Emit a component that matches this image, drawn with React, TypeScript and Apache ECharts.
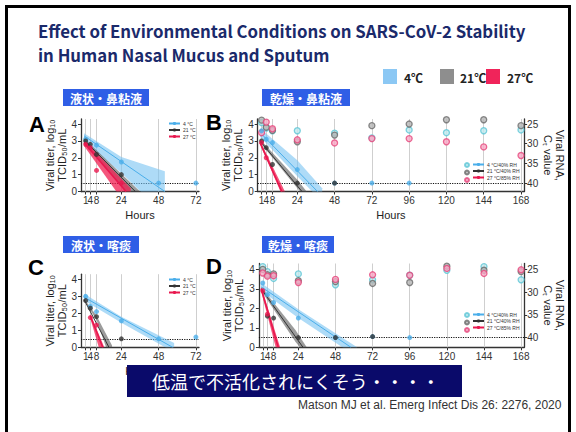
import React, { useEffect, useRef } from 'react';
import * as echarts from 'echarts';

// ---- ticks ----
const hoursShort = [1, 4, 8, 24, 48, 72];
const hoursLong = [1, 4, 8, 24, 48, 72, 96, 120, 144, 168];
const crowdedTick = 4; // label drawn on an overlay axis so it is not hidden by overlap logic
const titerTicks = [0, 1, 2, 3, 4];
const ctTicks = [25, 30, 35, 40];
const detectionLimit = 0.5;

// ---- Panel A: liquid nasal mucus ----
const aLine4 = [[0, 3.3], [52, 0]];
const aBand4X = [0, 24, 52];
const aBand4Lo = [3.0, 1.1, -1.4];
const aBand4Hi = [3.45, 2.05, 1.2];
const aLine21 = [[0, 3.05], [33, 0]];
const aBand21X = [0, 36];
const aBand21Lo = [2.95, -1.0];
const aBand21Hi = [3.15, 0.0];
const aLine27 = [[0, 2.9], [27, 0]];
const aBand27X = [0, 30];
const aBand27Lo = [2.7, -1.2];
const aBand27Hi = [3.05, 0.2];
const aPts4 = [[1, 3.1], [8, 2.75], [24, 1.75], [48, 0.5], [72, 0.5]];
const aPts21 = [[1, 3.0], [4, 2.8], [8, 2.2], [24, 1.0]];
const aPts27 = [[1, 2.8], [4, 2.6], [8, 1.25], [24, 0.5]];

// ---- Panel B: dried nasal mucus ----
const bLine4 = [[0, 3.5], [37, 0]];
const bBand4X = [0, 24, 40];
const bBand4Lo = [3.25, 0.9, -0.6];
const bBand4Hi = [3.75, 1.85, 0.2];
const bLine21 = [[0, 3.0], [27, 0]];
const bBand21X = [0, 24, 30];
const bBand21Lo = [2.9, 0.2, -0.4];
const bBand21Hi = [3.1, 0.7, 0.0];
const bLine27 = [[0, 2.9], [14, 0]];
const bBand27X = [0, 16];
const bBand27Lo = [2.8, -0.6];
const bBand27Hi = [3.0, 0.0];
const bPts4 = [[1, 3.6], [4, 3.1], [8, 2.9], [24, 1.3], [48, 0.5], [72, 0.5], [96, 0.5]];
const bPts21 = [[1, 3.0], [4, 2.6], [8, 1.6], [24, 0.5], [48, 0.5]];
const bPts27 = [[1, 2.9], [4, 2.0]];
const bCt4 = [[1, 24.6], [4, 26.0], [8, 26.7], [24, 26.7], [48, 27.3], [72, 28.5], [96, 26.5], [120, 27.2], [144, 26.7], [168, 26.5]];
const bCt21 = [[1, 24.0], [4, 25.8], [8, 26.6], [24, 29.5], [48, 27.8], [72, 25.4], [96, 25.0], [120, 23.9], [144, 23.9], [168, 25.4]];
const bCt27 = [[1, 27.2], [4, 24.5], [8, 26.2], [24, 29.0], [48, 29.8], [72, 28.7], [96, 28.7], [120, 29.5], [144, 30.8], [168, 33.0]];

// ---- Panel C: liquid sputum ----
const cLine4 = [[0, 2.95], [57, 0]];
const cBand4X = [0, 24, 58];
const cBand4Lo = [2.75, 1.45, -0.3];
const cBand4Hi = [3.15, 1.8, 0.25];
const cLine21 = [[0, 2.8], [16, 0]];
const cBand21X = [0, 8, 18];
const cBand21Lo = [2.75, 1.6, -1.0];
const cBand21Hi = [2.85, 1.85, 0.1];
const cLine27 = [[4, 1.85], [12, 0]];
const cBand27X = [4, 13];
const cBand27Lo = [1.7, -1.1];
const cBand27Hi = [1.95, 0.0];
const cPts4 = [[1, 3.0], [4, 2.4], [8, 2.1], [24, 1.55], [48, 0.5], [72, 0.6]];
const cPts21 = [[1, 2.75], [4, 2.3], [8, 1.8], [24, 0.5]];
const cPts27 = [[4, 1.75], [8, 1.3]];

// ---- Panel D: dried sputum ----
const dLine4 = [[0, 3.1], [58, 0]];
const dBand4X = [0, 24, 62];
const dBand4Lo = [2.9, 1.5, -0.5];
const dBand4Hi = [3.3, 1.95, 0.0];
const dLine21 = [[0, 3.0], [27, 0]];
const dBand21X = [0, 22, 29];
const dBand21Lo = [2.9, 0.3, -0.4];
const dBand21Hi = [3.1, 0.9, 0.05];
const dLine27 = [[0, 3.0], [11, 0]];
const dBand27X = [0, 12];
const dBand27Lo = [2.85, -0.8];
const dBand27Hi = [3.1, 0.05];
const dPts4 = [[1, 3.3], [4, 2.7], [8, 2.3], [24, 1.5], [48, 0.5], [72, 0.55], [96, 0.5]];
const dPts21 = [[4, 1.6], [8, 1.5], [24, 0.5], [48, 0.5], [72, 0.55]];
const dPts27 = [[1, 2.9], [4, 1.7]];
const dCt4 = [[1, 24.4], [4, 25.5], [8, 27.0], [24, 26.0], [48, 28.4], [72, 27.3], [96, 26.3], [120, 25.2], [144, 24.4], [168, 27.3]];
const dCt21 = [[1, 25.0], [4, 26.2], [8, 26.0], [24, 27.5], [48, 27.7], [72, 28.1], [96, 27.9], [120, 24.3], [144, 25.2], [168, 25.5]];
const dCt27 = [[1, 25.8], [4, 26.5], [8, 26.4], [24, 27.9], [48, 27.2], [72, 26.2], [96, 26.3], [120, 24.8], [144, 25.9], [168, 25.1]];

// ---- names ----
const liquidNames = ['4 °C', '21 °C', '27 °C'];
const driedNames = ['4 °C/40% RH', '21 °C/40% RH', '27 °C/85% RH'];
const ctNames = ['Ct 4', 'Ct 21', 'Ct 27'];

const C4 = '#4aaeea';
const C21 = '#333333';
const C27 = '#e8184f';
const BAND4 = 'rgba(120,195,242,0.6)';
const BAND21 = 'rgba(90,90,90,0.6)';
const BAND27 = 'rgba(240,30,80,0.75)';

const AXIS = '#333';
const FONT = '"Liberation Sans", Arial, sans-serif';
const JP = '"Noto Sans CJK JP", sans-serif';

function band(xi: number, yi: number, xs: number[], lo: number[], hi: number[], fill: string, z: number) {
  const data = xs.map((x, i) => [x, lo[i], hi[i]]);
  return {
    type: 'custom',
    xAxisIndex: xi,
    yAxisIndex: yi,
    clip: true,
    silent: true,
    z,
    data,
    encode: { x: 0, y: [1, 2] },
    renderItem: (params: any, api: any) => {
      if (params.dataIndex !== 0) return null;
      const up = data.map((d) => api.coord([d[0], d[2]]));
      const dn = data.map((d) => api.coord([d[0], d[1]])).reverse();
      return { type: 'polygon', shape: { points: up.concat(dn) }, style: { fill } };
    },
  };
}

function regLine(name: string, xi: number, yi: number, data: number[][], color: string, width: number, z: number) {
  return {
    type: 'line',
    name,
    xAxisIndex: xi,
    yAxisIndex: yi,
    data,
    symbol: 'circle',
    symbolSize: 3,
    showSymbol: false,
    lineStyle: { color, width },
    itemStyle: { color },
    z,
    silent: true,
  };
}

function pts(xi: number, yi: number, data: number[][], color: string, z: number) {
  return {
    type: 'scatter',
    xAxisIndex: xi,
    yAxisIndex: yi,
    data,
    symbolSize: 5,
    itemStyle: { color },
    z,
    silent: true,
  };
}

function ctPts(name: string, xi: number, yi: number, data: number[][], fill: string, stroke: string) {
  return {
    type: 'scatter',
    name,
    xAxisIndex: xi,
    yAxisIndex: yi,
    data,
    symbolSize: 6,
    itemStyle: { color: fill, borderColor: stroke, borderWidth: 1.3 },
    z: 6,
    silent: true,
  };
}

function guides(xi: number, yi: number, ticks: number[]) {
  return {
    type: 'line',
    xAxisIndex: xi,
    yAxisIndex: yi,
    data: [],
    silent: true,
    markLine: {
      silent: true,
      symbol: 'none',
      label: { show: false },
      z: 1,
      data: [
        ...ticks.map((t) => ({ xAxis: t, lineStyle: { color: '#cfcfcf', width: 1, type: 'solid' } })),
        { yAxis: detectionLimit, lineStyle: { color: '#111', width: 1.2, type: 'dotted' } },
      ],
    },
  };
}

function panelSeries(
  xi: number, yi: number, names: string[], ticks: number[],
  lines: number[][][], bands: number[][][], points: number[][][]
) {
  const colors = [C4, C21, C27];
  const fills = [BAND4, BAND21, BAND27];
  const out: any[] = [guides(xi, yi, ticks)];
  for (let k = 0; k < 3; k++) {
    out.push(band(xi, yi, bands[k][0], bands[k][1], bands[k][2], fills[k], 2 + k));
  }
  for (let k = 0; k < 3; k++) {
    out.push(regLine(names[k], xi, yi, lines[k], colors[k], k === 2 ? 1.6 : 1, 6));
    out.push(pts(xi, yi, points[k], colors[k], 7));
  }
  return out;
}

const labelBase = {
  fontSize: 10, color: '#333', margin: 4, fontFamily: FONT,
  hideOverlap: false, showMinLabel: true, showMaxLabel: true,
};

function xAxisDef(grid: number, min: number, max: number, ticks: number[]) {
  return {
    type: 'value',
    gridIndex: grid,
    position: 'bottom',
    offset: 0,
    min,
    max,
    name: 'Hours',
    nameLocation: 'middle',
    nameGap: 18,
    nameTextStyle: { fontSize: 11, color: '#222', fontFamily: FONT },
    axisLine: { show: true, onZero: false, lineStyle: { color: AXIS, width: 1.3 } },
    axisTick: { show: true, length: 3, customValues: ticks, lineStyle: { color: AXIS } },
    axisLabel: { ...labelBase, customValues: ticks.filter((t) => t !== crowdedTick) },
    splitLine: { show: false },
  };
}

function xOverlayDef(grid: number, min: number, max: number) {
  return {
    type: 'value',
    gridIndex: grid,
    position: 'bottom',
    offset: 0,
    min,
    max,
    axisLine: { show: false, onZero: false },
    axisTick: { show: false },
    axisLabel: { ...labelBase, customValues: [crowdedTick] },
    splitLine: { show: false },
  };
}

function yAxisDef(grid: number) {
  return {
    type: 'value',
    gridIndex: grid,
    position: 'left',
    min: 0,
    max: 4.3,
    name: 'Viral titer, log\u2081\u2080\nTCID\u2085\u2080/mL',
    nameLocation: 'middle',
    nameRotate: 90,
    nameGap: 13,
    nameTextStyle: { fontSize: 11, color: '#222', lineHeight: 12, fontFamily: FONT },
    axisLine: { show: true, onZero: false, lineStyle: { color: AXIS, width: 1.3 } },
    axisTick: { show: true, length: 3, customValues: titerTicks, lineStyle: { color: AXIS } },
    axisLabel: { ...labelBase, customValues: titerTicks },
    splitLine: { show: false },
  };
}

function ctAxisDef(grid: number) {
  return {
    type: 'value',
    gridIndex: grid,
    position: 'right',
    inverse: true,
    min: 25 - 0.3 * (15 / 3.5),
    max: 40 + 0.5 * (15 / 3.5),
    name: 'Viral RNA,\nC\u209C value',
    nameLocation: 'middle',
    nameRotate: -90,
    nameGap: 16,
    nameTextStyle: { fontSize: 11, color: '#222', lineHeight: 12, fontFamily: FONT },
    axisLine: { show: true, onZero: false, lineStyle: { color: AXIS, width: 1.3 } },
    axisTick: { show: true, length: 3, customValues: ctTicks, lineStyle: { color: AXIS } },
    axisLabel: { ...labelBase, margin: 3, customValues: ctTicks },
    splitLine: { show: false },
  };
}

function smallLegend(names: string[], left: number, top: number, textOn: boolean) {
  return {
    data: names,
    orient: 'vertical',
    left,
    top,
    itemWidth: textOn ? 11 : 5,
    itemHeight: 4,
    itemGap: 1.5,
    padding: 0,
    selectedMode: false,
    formatter: textOn ? undefined : () => '',
    textStyle: { fontSize: 5, color: '#333', fontFamily: FONT, padding: [0, 0, 0, -2] },
  };
}

function labelBox(x: number, y: number, w: number, text: string) {
  return [
    { type: 'rect', shape: { x, y, width: w, height: 17 }, style: { fill: '#2f5ee6' }, z: 10 },
    {
      type: 'text', x: x + w / 2, y: y + 9, z: 11,
      style: { text, fill: '#fff', font: `bold 12px ${JP}`, textAlign: 'center', textVerticalAlign: 'middle' },
    },
  ];
}

function letter(x: number, y: number, text: string) {
  return {
    type: 'text', x, y, z: 11,
    style: { text, fill: '#000', font: `bold 22px ${FONT}`, textAlign: 'left', textVerticalAlign: 'middle' },
  };
}

export default function App() {
  const ref = useRef<HTMLDivElement>(null);
  useEffect(() => {
    if (!ref.current) return;
    const chart = echarts.init(ref.current, null, { renderer: 'svg' });
    const series: any[] = [
      ...panelSeries(0, 0, liquidNames, hoursShort,
        [aLine4, aLine21, aLine27],
        [[aBand4X, aBand4Lo, aBand4Hi], [aBand21X, aBand21Lo, aBand21Hi], [aBand27X, aBand27Lo, aBand27Hi]],
        [aPts4, aPts21, aPts27]),
      ...panelSeries(1, 1, driedNames, hoursLong,
        [bLine4, bLine21, bLine27],
        [[bBand4X, bBand4Lo, bBand4Hi], [bBand21X, bBand21Lo, bBand21Hi], [bBand27X, bBand27Lo, bBand27Hi]],
        [bPts4, bPts21, bPts27]),
      ctPts(ctNames[0], 1, 2, bCt4, '#bfe9ee', '#5cc6d6'),
      ctPts(ctNames[1], 1, 2, bCt21, '#b5b5b5', '#6a6a6a'),
      ctPts(ctNames[2], 1, 2, bCt27, '#f7a8c4', '#e5457a'),
      ...panelSeries(2, 3, liquidNames, hoursShort,
        [cLine4, cLine21, cLine27],
        [[cBand4X, cBand4Lo, cBand4Hi], [cBand21X, cBand21Lo, cBand21Hi], [cBand27X, cBand27Lo, cBand27Hi]],
        [cPts4, cPts21, cPts27]),
      ...panelSeries(3, 4, driedNames, hoursLong,
        [dLine4, dLine21, dLine27],
        [[dBand4X, dBand4Lo, dBand4Hi], [dBand21X, dBand21Lo, dBand21Hi], [dBand27X, dBand27Lo, dBand27Hi]],
        [dPts4, dPts21, dPts27]),
      ctPts(ctNames[0], 3, 5, dCt4, '#bfe9ee', '#5cc6d6'),
      ctPts(ctNames[1], 3, 5, dCt21, '#b5b5b5', '#6a6a6a'),
      ctPts(ctNames[2], 3, 5, dCt27, '#f7a8c4', '#e5457a'),
    ];

    const graphic: any[] = [
      { type: 'rect', shape: { x: 6.5, y: 6.5, width: 563, height: 440 }, style: { fill: 'none', stroke: '#000', lineWidth: 3 }, z: 20 },
      {
        type: 'text', x: 38, y: 31, z: 11,
        style: { text: 'Effect of Environmental Conditions on SARS-CoV-2 Stability', fill: '#1b2a6b', font: `bold 16.8px ${JP}`, textVerticalAlign: 'middle' },
      },
      {
        type: 'text', x: 38, y: 55, z: 11,
        style: { text: 'in Human Nasal Mucus and Sputum', fill: '#1b2a6b', font: `bold 16.8px ${JP}`, textVerticalAlign: 'middle' },
      },
      { type: 'rect', shape: { x: 383, y: 69, width: 14, height: 15 }, style: { fill: '#8cc8f4' }, z: 10 },
      { type: 'text', x: 404, y: 77, z: 11, style: { text: '4℃', fill: '#222', font: `bold 12px ${JP}`, textVerticalAlign: 'middle' } },
      { type: 'rect', shape: { x: 440, y: 69, width: 14, height: 15 }, style: { fill: '#8e8e8e' }, z: 10 },
      { type: 'text', x: 460, y: 77, z: 11, style: { text: '21℃', fill: '#222', font: `bold 12px ${JP}`, textVerticalAlign: 'middle' } },
      { type: 'rect', shape: { x: 486, y: 69, width: 14, height: 15 }, style: { fill: '#f0245a' }, z: 10 },
      { type: 'text', x: 507, y: 77, z: 11, style: { text: '27℃', fill: '#222', font: `bold 12px ${JP}`, textVerticalAlign: 'middle' } },
      ...labelBox(63, 89, 86, '液状・鼻粘液'),
      ...labelBox(262, 89, 88, '乾燥・鼻粘液'),
      ...labelBox(63, 236, 76, '液状・喀痰'),
      ...labelBox(262, 236, 72, '乾燥・喀痰'),
      letter(29, 124, 'A'),
      letter(206, 122, 'B'),
      letter(28, 267, 'C'),
      letter(206, 266, 'D'),
      { type: 'rect', shape: { x: 127, y: 365, width: 335, height: 32 }, style: { fill: '#0a0a6a' }, z: 30 },
      {
        type: 'text', x: 152, y: 381, z: 31,
        style: { text: '低温で不活化されにくそう・・・・', fill: '#fff', font: `18px ${JP}`, textVerticalAlign: 'middle' },
      },
      {
        type: 'text', x: 298, y: 405, z: 11,
        style: { text: 'Matson MJ et al. Emerg Infect Dis 26: 2276, 2020', fill: '#333', font: `12px ${FONT}`, textVerticalAlign: 'middle' },
      },
    ];

    chart.setOption({
      animation: false,
      backgroundColor: '#fff',
      textStyle: { fontFamily: FONT },
      grid: [
        { left: 81, top: 119, width: 118, height: 72.5 },
        { left: 257.7, top: 119, width: 266.4, height: 72.5 },
        { left: 81, top: 274.2, width: 118, height: 73.1 },
        { left: 258.9, top: 263.5, width: 265.3, height: 83.8 },
      ],
      xAxis: [
        xAxisDef(0, -2, 74, hoursShort),
        xAxisDef(1, -1.5, 170, hoursLong),
        xAxisDef(2, -2, 74, hoursShort),
        xAxisDef(3, -1.5, 170, hoursLong),
        xOverlayDef(0, -2, 74),
        xOverlayDef(1, -1.5, 170),
        xOverlayDef(2, -2, 74),
        xOverlayDef(3, -1.5, 170),
      ],
      yAxis: [
        yAxisDef(0),
        yAxisDef(1),
        ctAxisDef(1),
        yAxisDef(2),
        yAxisDef(3),
        ctAxisDef(3),
      ],
      legend: [
        smallLegend(liquidNames, 168, 121, true),
        smallLegend(driedNames, 472, 162, true),
        smallLegend(ctNames, 464, 162, false),
        smallLegend(liquidNames, 168, 277, true),
        smallLegend(driedNames, 472, 312, true),
        smallLegend(ctNames, 464, 312, false),
      ],
      graphic,
      series,
    });
    return () => chart.dispose();
  }, []);
  return <div ref={ref} style={{ position: 'absolute', left: 0, top: 0, width: 576, height: 432 }} />;
}
